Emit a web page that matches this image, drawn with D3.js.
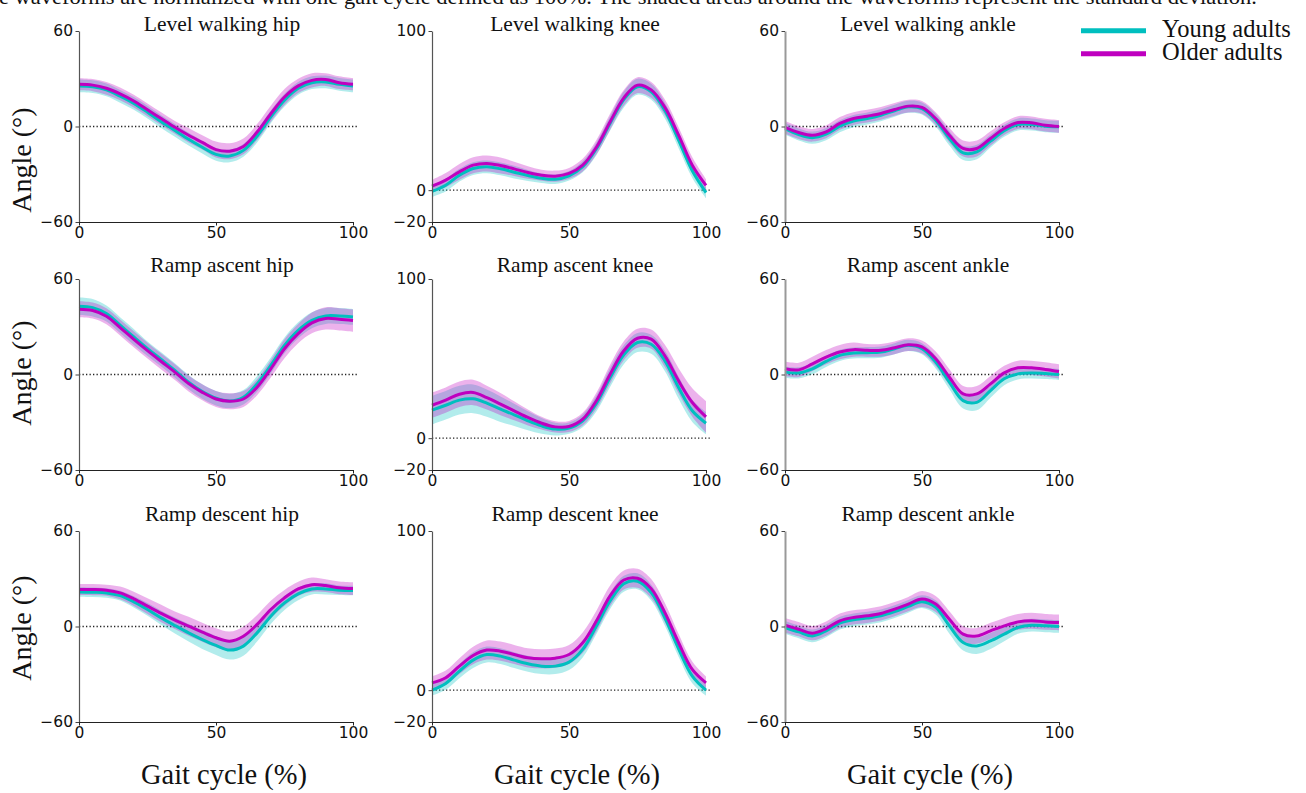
<!DOCTYPE html>
<html lang="en">
<head>
  <meta charset="utf-8">
  <title>Joint angles over the gait cycle</title>
  <script src="https://d3js.org/d3.v7.min.js"></script>
  <style>
    body { margin: 0; background: #fff; }
    svg { display: block; }
    .tick text { font-family: "DejaVu Sans", sans-serif; font-size: 15.5px; fill: #111; }
  </style>
</head>
<body>
  <svg id="chart"></svg>
  <script>
    // gait cycle sample points (%)
    const gaitPct = [0, 5, 10, 15, 20, 25, 30, 35, 40, 45, 50, 55, 60, 65, 70, 75, 80, 85, 90, 95, 100];

    // Level walking
    const lwHipYoung   = [25.5, 25, 23, 19, 14.5, 9, 3, -2.5, -8, -13, -17.5, -18.5, -15, -6, 6, 16.5, 24, 27.5, 28, 26.5, 25.5];
    const lwHipOlder   = [26.5, 26, 24, 20.5, 16, 10.5, 5, -0.5, -5.5, -10, -14.5, -15.5, -12.5, -3.5, 8, 18.5, 25.5, 29, 29.5, 27.5, 26.5];
    const lwHipYoungSd = [4, 4, 4, 4, 4, 4, 4, 4, 4, 4, 4, 4, 4, 4, 4, 4, 4, 4, 4, 4, 4];
    const lwHipOlderSd = [3.8, 3.8, 4, 4, 4, 4, 4, 4, 4.5, 4.5, 5, 5, 5, 5, 5, 5, 4.5, 4.5, 4, 4, 3.8];

    const lwKneeYoung   = [-0.8, 3.1, 9.4, 13.6, 14.7, 13.4, 11.3, 9.2, 7.5, 6.9, 9, 14.7, 26, 42, 57, 65, 61.8, 50, 31.4, 12.2, -1.5];
    const lwKneeOlder   = [2.5, 6.3, 11.5, 15.7, 16.8, 15.5, 13.4, 11.1, 9.4, 8.8, 10.5, 15.7, 27, 43, 58, 66, 63, 52, 34.6, 15.7, 3];
    const lwKneeYoungSd = [3.5, 4, 4, 4, 4, 4, 4, 3.5, 3, 3, 3, 3.5, 4, 4.5, 5, 5, 5, 5, 5, 4.5, 3.5];
    const lwKneeOlderSd = [4, 4.5, 5, 5, 5, 5, 4.5, 4, 3.5, 3.5, 3.5, 4, 4.5, 5, 5, 5, 5, 5, 5, 5, 4];

    const lwAnkleYoung   = [-1.3, -5, -7, -4.8, 0.2, 3.4, 5, 7.1, 9.9, 12.4, 11.3, 4, -7.5, -16.6, -16, -9.2, -2.7, 1.3, 1.3, 0.2, -0.2];
    const lwAnkleOlder   = [-0.6, -3.8, -5.5, -3.4, 1.9, 5, 6.5, 8.2, 10.7, 12.8, 12, 5, -5.5, -13.8, -13.8, -7.5, -1.3, 2.5, 2.3, 0.8, 0];
    const lwAnkleYoungSd = [3.8, 3.8, 3.8, 3.8, 3.8, 3.8, 3.8, 3.8, 3.8, 3.8, 3.8, 4, 4.5, 4.5, 4.5, 4, 3.8, 3.8, 3.8, 3.8, 3.8];
    const lwAnkleOlderSd = [4, 4, 4, 4, 4, 4, 4, 4, 4, 4, 4, 4, 4.5, 5, 5, 4.5, 4, 4, 4, 4, 4];

    // Ramp ascent
    const raHipYoung   = [42.9, 42, 38.3, 31, 23.6, 16.2, 9.5, 2.5, -4.8, -10.7, -14.9, -16.6, -14.3, -5.9, 5.7, 18.3, 27.8, 34.1, 36.8, 36.8, 36.2];
    const raHipOlder   = [41, 40.2, 36.6, 29.5, 22.1, 15, 8.2, 1.5, -5.7, -11.2, -15.4, -16.8, -15.4, -8, 3.6, 16.2, 25.7, 32.4, 35.2, 34.7, 33.9];
    const raHipYoungSd = [5.5, 5.5, 5, 5, 5, 4.5, 4.5, 4.5, 4.5, 4.5, 4.5, 4.5, 4.5, 5, 5, 5, 5, 5, 5, 5, 5];
    const raHipOlderSd = [5, 5, 5, 5, 5, 5, 5, 5, 5, 5, 5, 5, 5, 5, 5.5, 6, 6, 6.5, 7, 7, 7];

    const raKneeYoung   = [17.6, 20.7, 23.9, 24.7, 22, 18.2, 14.7, 10.9, 7.7, 5.7, 6.3, 10.9, 21.8, 38.1, 52.4, 60.1, 59, 48.6, 31.8, 17.2, 9.4];
    const raKneeOlder   = [20.7, 23.9, 27.6, 28.7, 25.5, 21.4, 17.2, 13, 9.4, 7.1, 7.3, 11.9, 23.5, 40.2, 54.9, 62.8, 62.2, 51.7, 36, 22.4, 13.4];
    const raKneeYoungSd = [9, 9, 9, 9, 8.5, 8, 7, 6, 5, 4, 3.5, 4, 5, 6, 6, 6, 6, 6.5, 7, 7, 7];
    const raKneeOlderSd = [8, 8, 8, 8, 7.5, 7, 6, 5, 4, 3.5, 3.5, 4, 5, 6, 6, 6, 6, 7, 8, 9, 10];

    const raAnkleYoung   = [1.5, 1, 3.6, 8.2, 12, 13.5, 13.7, 14.1, 16.2, 18.3, 16.2, 7.8, -4.8, -16.4, -17.5, -10.1, -2.7, 0.4, 1, 0.6, 0];
    const raAnkleOlder   = [3.6, 2.9, 6.7, 10.9, 14.1, 15.6, 15.2, 15.2, 16.8, 18.7, 17.3, 9.9, -1.7, -12.2, -12.2, -5.9, 1, 4.2, 4.2, 3.2, 1.9];
    const raAnkleYoungSd = [3.5, 3.5, 3.5, 3.5, 3.5, 3.5, 3.5, 3.5, 3.5, 3.5, 3.5, 4, 4.5, 5, 5, 4.5, 4, 3.5, 3.5, 3.5, 3.5];
    const raAnkleOlderSd = [4.5, 4.5, 4.5, 4.5, 4.5, 4.5, 4, 4, 4, 4, 4, 4.5, 5, 5, 5, 5, 4.5, 4.5, 4.5, 4.5, 4.5];

    // Ramp descent
    const rdHipYoung   = [21.7, 21.5, 21.1, 19.4, 15.5, 10.7, 5.4, 0.6, -4, -8.2, -11.9, -14.8, -12.3, -4, 6.5, 14.8, 20.5, 23.6, 23.6, 22.8, 22.6];
    const rdHipOlder   = [23.2, 23.2, 22.8, 21.1, 17.4, 12.8, 8.2, 4, 0.2, -3.6, -7.1, -9.2, -6.1, 1.3, 10.7, 18, 23.6, 26.3, 25.7, 24.3, 23.8];
    const rdHipYoungSd = [3, 3, 3, 3, 3.5, 4, 4.5, 5, 5.5, 6, 6, 6, 6, 5.5, 5, 4.5, 4, 3.5, 3.5, 3, 3];
    const rdHipOlderSd = [3.5, 3.5, 3.5, 4, 4.5, 5, 5.5, 5.5, 6, 6, 6, 6, 6, 6, 5.5, 5, 4.5, 4.5, 4, 4, 4];

    const rdKneeYoung   = [0, 4.2, 12, 18.9, 22.4, 21.4, 18.9, 16.6, 15.1, 15.1, 17.6, 25.6, 40.3, 56, 66.9, 68.4, 61.3, 45.5, 26, 8.8, 0];
    const rdKneeOlder   = [4.6, 7.8, 15.1, 21.8, 25.2, 24.5, 22.4, 20.3, 19.7, 20.1, 22.4, 29.8, 43.4, 59.2, 69.2, 70.3, 63.8, 48.7, 29.8, 13, 4.6];
    const rdKneeYoungSd = [3.5, 4, 4.5, 5, 5, 5, 5, 5, 5, 5, 5, 5, 5, 5, 5, 5, 5, 5, 5, 4.5, 3.5];
    const rdKneeOlderSd = [4, 4.5, 5, 5.5, 6, 6, 6, 6, 6, 6, 6, 6.5, 6.5, 6.5, 6, 6, 6, 6, 5.5, 5, 4];

    const rdAnkleYoung   = [-0.6, -3.4, -5.9, -2.7, 2.1, 4.2, 5.3, 6.7, 9.3, 12.6, 15.6, 12, 0.4, -10.1, -12.2, -9.1, -4.8, -0.6, 0.8, 0.4, 0];
    const rdAnkleOlder   = [0.8, -1.7, -4.2, -1.3, 3.6, 5.7, 6.7, 8.2, 10.9, 14.1, 17.3, 14.1, 4.6, -4.8, -5.9, -2.7, 0.4, 2.9, 3.6, 2.9, 2.5];
    const rdAnkleYoungSd = [4, 4, 4, 4, 4, 4, 4, 4, 4, 4, 4, 4.5, 5, 5, 5, 5, 4.5, 4, 4, 4, 4];
    const rdAnkleOlderSd = [4.5, 4.5, 4.5, 4.5, 4.5, 4.5, 4.5, 4.5, 4.5, 4.5, 5, 5, 5, 5, 5, 5, 5, 5, 5, 5, 5];

    const panelTitles = [
      "Level walking hip", "Level walking knee", "Level walking ankle",
      "Ramp ascent hip", "Ramp ascent knee", "Ramp ascent ankle",
      "Ramp descent hip", "Ramp descent knee", "Ramp descent ankle"
    ];
    const groupNames = ["Young adults", "Older adults"];
    const xTicks = [0, 50, 100];
    const jointTicks = [-60, 0, 60];
    const kneeTicks = [-20, 0, 100];

    const youngSeries = [lwHipYoung, lwKneeYoung, lwAnkleYoung, raHipYoung, raKneeYoung, raAnkleYoung, rdHipYoung, rdKneeYoung, rdAnkleYoung];
    const olderSeries = [lwHipOlder, lwKneeOlder, lwAnkleOlder, raHipOlder, raKneeOlder, raAnkleOlder, rdHipOlder, rdKneeOlder, rdAnkleOlder];
    const youngSd = [lwHipYoungSd, lwKneeYoungSd, lwAnkleYoungSd, raHipYoungSd, raKneeYoungSd, raAnkleYoungSd, rdHipYoungSd, rdKneeYoungSd, rdAnkleYoungSd];
    const olderSd = [lwHipOlderSd, lwKneeOlderSd, lwAnkleOlderSd, raHipOlderSd, raKneeOlderSd, raAnkleOlderSd, rdHipOlderSd, rdKneeOlderSd, rdAnkleOlderSd];

    const W = 1306, H = 793;
    const colLeft = [79, 432, 785];
    const rowTop = [31, 279, 531];
    const pw = 274, ph = 191;
    const titleY = [30.5, 272, 521];
    const ylabelY = [160, 373, 628];
    const titleShift = 6;
    const colours = ["#00bfbf", "#bf00bf"];
    const serif = '"Liberation Serif", "Times New Roman", Times, serif';

    const svg = d3.select("#chart").attr("width", W).attr("height", H);
    svg.append("rect").attr("width", W).attr("height", H).attr("fill", "#fff");

    function serifText(parent, size) {
      return parent.append("text")
        .style("font-family", serif)
        .style("font-size", size + "px")
        .attr("fill", "#111");
    }

    // caption line cut off at top of the figure
    serifText(svg, 21)
      .attr("x", -1)
      .attr("y", 3.5)
      .attr("textLength", 1258)
      .attr("lengthAdjust", "spacingAndGlyphs")
      .text("e waveforms are normalized with one gait cycle defined as 100%. The shaded areas around the waveforms represent the standard deviation.");

    panelTitles.forEach((title, i) => {
      const col = i % 3, row = Math.floor(i / 3);
      const isKnee = col === 1;
      const left = colLeft[col], top = rowTop[row];

      const x = d3.scaleLinear().domain([0, 100]).range([left, left + pw]);
      const y = d3.scaleLinear().domain(isKnee ? [-20, 100] : [-60, 60]).range([top + ph, top]);

      const g = svg.append("g");

      const groups = [
        gaitPct.map((p, k) => ({ p, m: youngSeries[i][k], s: youngSd[i][k] })),
        gaitPct.map((p, k) => ({ p, m: olderSeries[i][k], s: olderSd[i][k] }))
      ];

      const curve = d3.curveCatmullRom.alpha(0.5);
      const band = d3.area()
        .x(d => x(d.p))
        .y0(d => y(d.m - d.s))
        .y1(d => y(d.m + d.s))
        .curve(curve);
      const line = d3.line()
        .x(d => x(d.p))
        .y(d => y(d.m))
        .curve(curve);

      // zero reference
      g.append("line")
        .attr("x1", x(0)).attr("x2", x(101.5))
        .attr("y1", y(0)).attr("y2", y(0))
        .attr("stroke", "#222")
        .attr("stroke-width", 1.3)
        .attr("stroke-dasharray", "1.3,2.2");

      groups.forEach((d, j) => {
        g.append("path")
          .attr("d", band(d))
          .attr("fill", colours[j])
          .attr("fill-opacity", 0.3);
      });
      groups.forEach((d, j) => {
        g.append("path")
          .attr("d", line(d))
          .attr("fill", "none")
          .attr("stroke", colours[j])
          .attr("stroke-width", 3);
      });

      // axes
      const yAxis = g.append("g")
        .attr("transform", `translate(${left},0)`)
        .call(d3.axisLeft(y).tickValues(isKnee ? kneeTicks : jointTicks)
          .tickSize(3.5).tickSizeOuter(0).tickPadding(2.5));
      yAxis.select(".domain")
        .attr("stroke", col === 2 ? "#999" : "#555")
        .attr("stroke-width", col === 2 ? 2 : 1.2);
      yAxis.selectAll(".tick line").attr("stroke", "#444");

      const xAxis = g.append("g")
        .attr("transform", `translate(0,${top + ph})`)
        .call(d3.axisBottom(x).tickValues(xTicks)
          .tickSize(3.5).tickSizeOuter(0).tickPadding(1.5));
      xAxis.select(".domain").attr("stroke", "#222").attr("stroke-width", 1.2);
      xAxis.selectAll(".tick line").attr("stroke", "#222");

      serifText(g, 21.5)
        .attr("x", left + pw / 2 + titleShift)
        .attr("y", titleY[row])
        .attr("text-anchor", "middle")
        .text(title);

      if (col === 0) {
        serifText(g, 28)
          .attr("transform", `translate(31,${ylabelY[row]}) rotate(-90)`)
          .attr("text-anchor", "middle")
          .text("Angle (°)");
      }
      if (row === 2) {
        serifText(g, 28.5)
          .attr("x", left + pw / 2 + titleShift + 2)
          .attr("y", 784)
          .attr("text-anchor", "middle")
          .text("Gait cycle (%)");
      }
    });

    // legend
    const legend = svg.append("g");
    groupNames.forEach((name, j) => {
      const ly = 30.7 + j * 23;
      legend.append("line")
        .attr("x1", 1081).attr("x2", 1146)
        .attr("y1", ly).attr("y2", ly)
        .attr("stroke", colours[j])
        .attr("stroke-width", 5);
      serifText(legend, 24.5)
        .attr("x", 1162)
        .attr("y", ly + 6.5)
        .text(name);
    });
  </script>
</body>
</html>
